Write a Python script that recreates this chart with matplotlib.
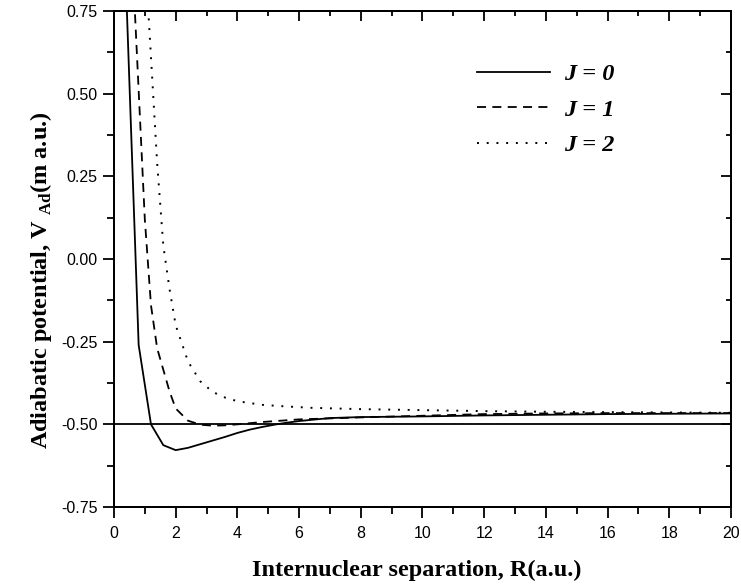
import numpy as np
import matplotlib
matplotlib.use('Agg')
from matplotlib import pyplot as plt
from matplotlib.ticker import MultipleLocator

# 数据：绝热势能曲线
R_j0 = [0.4, 0.8, 1.2, 1.6, 2.0, 2.4, 2.8, 3.2, 3.6, 4.0, 4.4, 4.8, 5.2, 5.6,
        6.0, 7.0, 8.0, 9.0, 10.0, 12.0, 14.0, 16.0, 18.0, 20.0]
V_j0 = [0.80, -0.26, -0.50, -0.563, -0.578, -0.571, -0.560, -0.549, -0.538, -0.526,
        -0.516, -0.508, -0.501, -0.495, -0.490, -0.481, -0.478, -0.477, -0.476,
        -0.473, -0.471, -0.469, -0.468, -0.467]

R_j1 = [0.4, 0.6, 0.8, 1.0, 1.2, 1.4, 1.6, 1.8, 2.0, 2.4, 2.8, 3.2, 3.6, 4.0,
        4.8, 6.0, 8.0, 10.0, 12.0, 14.0, 16.0, 18.0, 20.0]
V_j1 = [1.30, 0.90, 0.51, 0.12, -0.14, -0.27, -0.335, -0.40, -0.452, -0.489,
        -0.501, -0.504, -0.503, -0.500, -0.493, -0.485, -0.479, -0.474, -0.469,
        -0.467, -0.466, -0.466, -0.466]

R_j2 = [1.0, 1.2, 1.4, 1.6, 1.8, 2.0, 2.4, 2.8, 3.2, 3.6, 4.0, 4.8, 5.6, 6.4,
        8.0, 10.0, 12.0, 14.0, 16.0, 18.0, 20.0]
V_j2 = [0.93, 0.61, 0.29, 0.04, -0.09, -0.20, -0.31, -0.37, -0.402, -0.419, -0.430,
        -0.441, -0.446, -0.450, -0.454, -0.457, -0.460, -0.462, -0.463, -0.464, -0.465]

V_limit = -0.5

labels = ['J = 0', 'J = 1', 'J = 2']

# 字体设置
plt.rcParams['font.family'] = ['Liberation Sans', 'DejaVu Sans']
plt.rcParams['mathtext.fontset'] = 'custom'
plt.rcParams['mathtext.rm'] = 'Liberation Serif:bold'
plt.rcParams['mathtext.bf'] = 'Liberation Serif:bold'
plt.rcParams['axes.linewidth'] = 1.4

fig = plt.figure(figsize=(7.41, 5.85), dpi=100)
ax = fig.add_axes([0.1538, 0.1333, 0.8327, 0.8479])

lw = 1.3
ax.plot(R_j0, V_j0, color='k', lw=lw, linestyle='-', label=labels[0])
ax.plot(R_j1, V_j1, color='k', lw=lw, linestyle=(0, (5, 3.5)), label=labels[1])
ax.plot(R_j2, V_j2, color='k', lw=1.4, linestyle=(0, (1, 4)), label=labels[2])
ax.axhline(V_limit, color='k', lw=lw)

ax.set_xlim(0, 20)
ax.set_ylim(-0.75, 0.75)
ax.xaxis.set_major_locator(MultipleLocator(2))
ax.xaxis.set_minor_locator(MultipleLocator(1))
ax.yaxis.set_major_locator(MultipleLocator(0.25))
ax.yaxis.set_minor_locator(MultipleLocator(0.125))
ax.yaxis.set_major_formatter(matplotlib.ticker.FormatStrFormatter('%.2f'))
ax.tick_params(which='major', direction='out', length=8, width=1.3, labelsize=11.5)
ax.tick_params(which='minor', direction='out', length=5, width=1.3)
ax.tick_params(axis='x', which='major', pad=6)
ax.tick_params(axis='y', which='major', pad=4)

# 上、右坐标轴：刻度向内
axt = ax.twiny()
axt.set_xlim(ax.get_xlim())
axt.xaxis.set_major_locator(MultipleLocator(2))
axt.xaxis.set_minor_locator(MultipleLocator(1))
axt.tick_params(which='major', direction='in', length=7, width=1.3, labeltop=False)
axt.tick_params(which='minor', direction='in', length=3.5, width=1.3)
axr = ax.twinx()
axr.set_ylim(ax.get_ylim())
axr.yaxis.set_major_locator(MultipleLocator(0.25))
axr.yaxis.set_minor_locator(MultipleLocator(0.125))
axr.tick_params(which='major', direction='in', length=7, width=1.3, labelright=False)
axr.tick_params(which='minor', direction='in', length=3.5, width=1.3)

# 图例
leg = ax.legend(loc='upper left', bbox_to_anchor=(0.588, 0.895), frameon=False,
                borderpad=0, borderaxespad=0, handlelength=3.0, handletextpad=0.6,
                labelspacing=0.56,
                prop={'family': 'Liberation Serif', 'weight': 'bold',
                      'style': 'italic', 'size': 17.5})

# 坐标轴标题
fig.text(417 / 741, 1 - 576 / 585, 'Internuclear separation, R(a.u.)',
         family='Liberation Serif', weight='bold', size=17.5,
         ha='center', va='baseline')
fig.text(47 / 741, 1 - 280 / 585,
         r'Adiabatic potential, V$_{\ \mathbf{Ad}}$(m a.u.)',
         family='Liberation Serif', weight='bold', size=17.5,
         rotation=90, rotation_mode='anchor', ha='center', va='baseline')

fig.savefig('out.png', dpi=100)
